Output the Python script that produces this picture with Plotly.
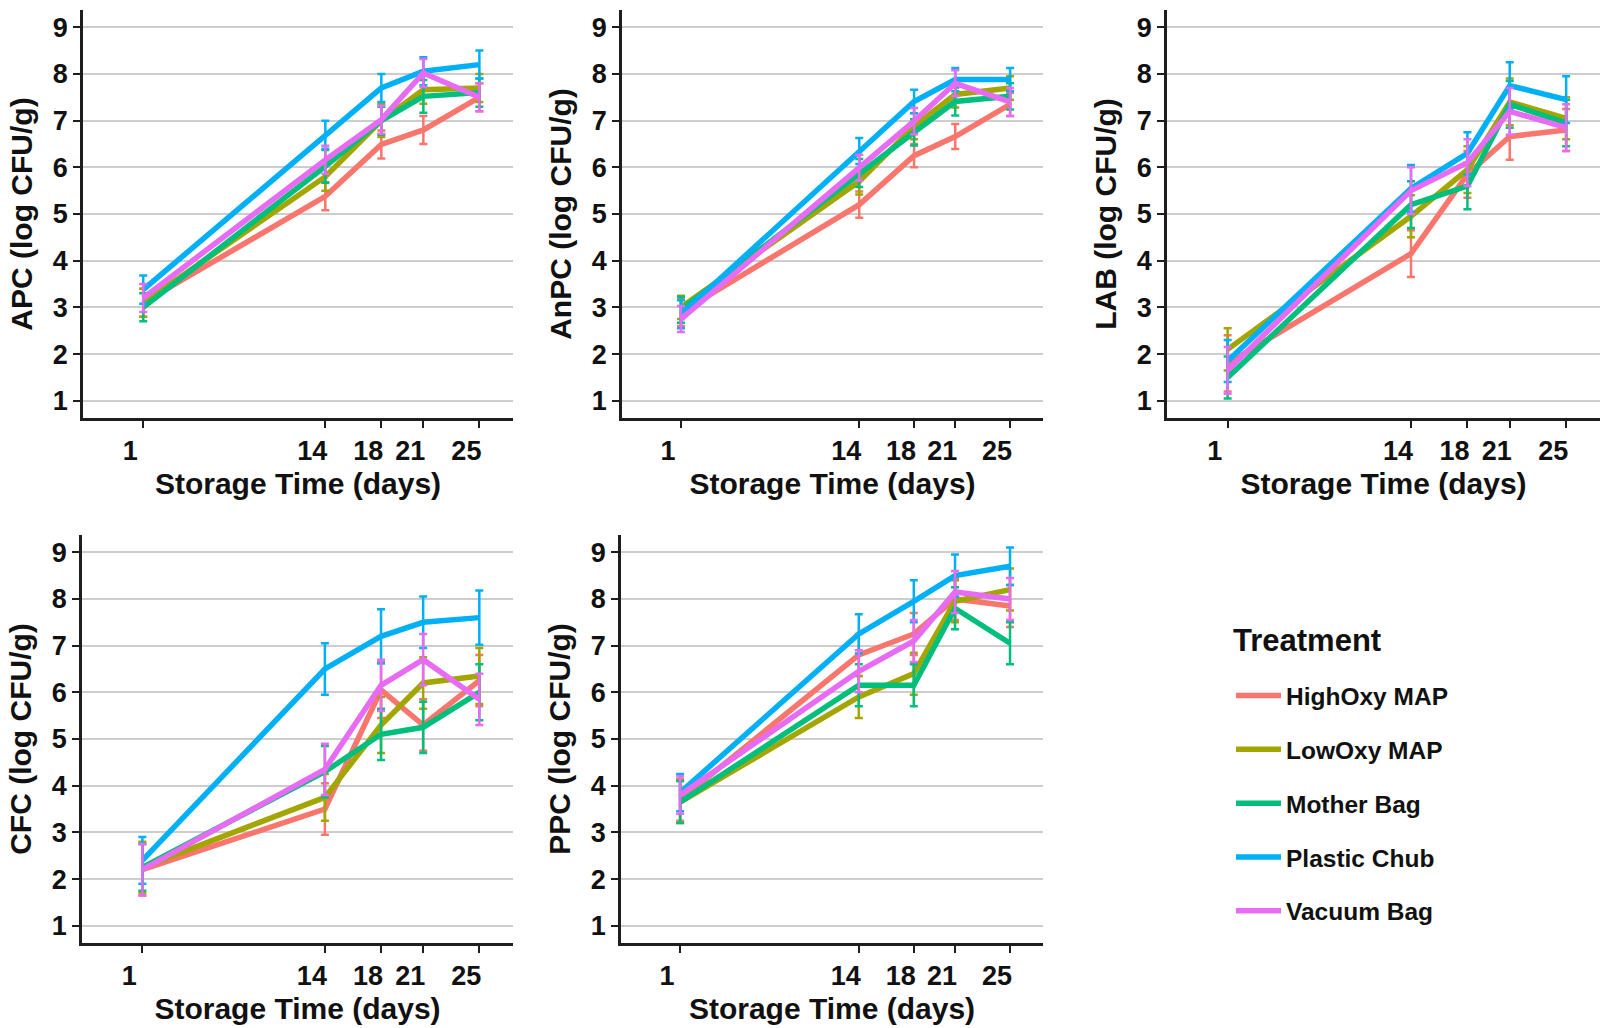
import plotly.graph_objects as go

days = [1, 14, 18, 21, 25]
treatments = ["HighOxy MAP", "LowOxy MAP", "Mother Bag", "Plastic Chub", "Vacuum Bag"]
colors = ["#F8766D", "#A3A500", "#00BF7D", "#00B0F6", "#E76BF3"]
panel_titles = ["APC (log CFU/g)", "AnPC (log CFU/g)", "LAB (log CFU/g)", "CFC (log CFU/g)", "PPC (log CFU/g)"]
y_ticks = [1, 2, 3, 4, 5, 6, 7, 8, 9]
legend_title = "Treatment"

# APC
apc_high = [3.1, 5.38, 6.49, 6.8, 7.5]
apc_low = [3.1, 5.8, 7.0, 7.66, 7.7]
apc_mother = [3.0, 6.02, 7.0, 7.52, 7.6]
apc_plastic = [3.38, 6.7, 7.7, 8.06, 8.2]
apc_vacuum = [3.2, 6.16, 7.02, 8.02, 7.5]
apc_high_se = [0.3, 0.3, 0.3, 0.3, 0.3]
apc_low_se = [0.3, 0.3, 0.35, 0.3, 0.3]
apc_mother_se = [0.3, 0.35, 0.3, 0.35, 0.3]
apc_plastic_se = [0.3, 0.3, 0.3, 0.3, 0.3]
apc_vacuum_se = [0.3, 0.3, 0.3, 0.3, 0.3]

# AnPC
anpc_high = [2.9, 5.2, 6.25, 6.66, 7.35]
anpc_low = [3.0, 5.7, 6.88, 7.56, 7.7]
anpc_mother = [2.95, 5.88, 6.75, 7.41, 7.52]
anpc_plastic = [2.85, 6.35, 7.41, 7.88, 7.88]
anpc_vacuum = [2.75, 5.99, 6.99, 7.8, 7.4]
anpc_high_se = [0.3, 0.28, 0.25, 0.27, 0.25]
anpc_low_se = [0.25, 0.28, 0.28, 0.28, 0.25]
anpc_mother_se = [0.28, 0.3, 0.28, 0.3, 0.28]
anpc_plastic_se = [0.3, 0.28, 0.25, 0.25, 0.25]
anpc_vacuum_se = [0.28, 0.28, 0.28, 0.28, 0.3]

# LAB
lab_high = [1.8, 4.15, 5.85, 6.66, 6.8]
lab_low = [2.1, 4.95, 5.95, 7.4, 7.05]
lab_mother = [1.5, 5.2, 5.6, 7.35, 6.95]
lab_plastic = [1.85, 5.55, 6.3, 7.75, 7.45]
lab_vacuum = [1.65, 5.5, 6.1, 7.2, 6.85]
lab_high_se = [0.6, 0.5, 0.5, 0.5, 0.45]
lab_low_se = [0.45, 0.45, 0.5, 0.5, 0.45]
lab_mother_se = [0.45, 0.5, 0.5, 0.5, 0.5]
lab_plastic_se = [0.45, 0.5, 0.45, 0.5, 0.5]
lab_vacuum_se = [0.5, 0.5, 0.5, 0.5, 0.5]

# CFC
cfc_high = [2.2, 3.5, 6.05, 5.3, 6.25]
cfc_low = [2.25, 3.75, 5.3, 6.2, 6.35]
cfc_mother = [2.25, 4.3, 5.1, 5.25, 6.0]
cfc_plastic = [2.4, 6.5, 7.2, 7.5, 7.6]
cfc_vacuum = [2.2, 4.35, 6.15, 6.7, 5.85]
cfc_high_se = [0.55, 0.55, 0.6, 0.55, 0.55]
cfc_low_se = [0.55, 0.5, 0.6, 0.55, 0.6]
cfc_mother_se = [0.5, 0.55, 0.55, 0.55, 0.6]
cfc_plastic_se = [0.5, 0.55, 0.58, 0.55, 0.58]
cfc_vacuum_se = [0.55, 0.55, 0.55, 0.55, 0.55]

# PPC
ppc_high = [3.7, 6.8, 7.25, 8.0, 7.85]
ppc_low = [3.65, 5.9, 6.4, 7.95, 8.2]
ppc_mother = [3.65, 6.15, 6.15, 7.8, 7.05]
ppc_plastic = [3.85, 7.25, 7.95, 8.5, 8.7]
ppc_vacuum = [3.8, 6.45, 7.1, 8.15, 8.0]
ppc_high_se = [0.45, 0.45, 0.45, 0.45, 0.45]
ppc_low_se = [0.45, 0.45, 0.45, 0.45, 0.45]
ppc_mother_se = [0.45, 0.45, 0.45, 0.45, 0.45]
ppc_plastic_se = [0.4, 0.42, 0.45, 0.45, 0.4]
ppc_vacuum_se = [0.4, 0.45, 0.45, 0.45, 0.45]

panels = [
    ([apc_high, apc_low, apc_mother, apc_plastic, apc_vacuum],
     [apc_high_se, apc_low_se, apc_mother_se, apc_plastic_se, apc_vacuum_se]),
    ([anpc_high, anpc_low, anpc_mother, anpc_plastic, anpc_vacuum],
     [anpc_high_se, anpc_low_se, anpc_mother_se, anpc_plastic_se, anpc_vacuum_se]),
    ([lab_high, lab_low, lab_mother, lab_plastic, lab_vacuum],
     [lab_high_se, lab_low_se, lab_mother_se, lab_plastic_se, lab_vacuum_se]),
    ([cfc_high, cfc_low, cfc_mother, cfc_plastic, cfc_vacuum],
     [cfc_high_se, cfc_low_se, cfc_mother_se, cfc_plastic_se, cfc_vacuum_se]),
    ([ppc_high, ppc_low, ppc_mother, ppc_plastic, ppc_vacuum],
     [ppc_high_se, ppc_low_se, ppc_mother_se, ppc_plastic_se, ppc_vacuum_se]),
]

W, H = 1600, 1028
# pixel boxes (left, right, top, bottom)
boxes = [
    (83, 513, 10, 418),
    (622, 1043, 10, 418),
    (1167, 1600, 10, 418),
    (82, 513, 535, 943),
    (621, 1043, 535, 943),
]

FONT = "Liberation Sans, Arial, Helvetica, sans-serif"
AXC = "#1e1e1e"

fig = go.Figure()
for p, (vals, errs) in enumerate(panels):
    ax = "" if p == 0 else str(p + 1)
    for s in range(5):
        fig.add_trace(go.Scatter(
            x=days, y=vals[s], mode="lines", name=treatments[s],
            line=dict(color=colors[s], width=5.5),
            error_y=dict(type="data", array=errs[s], visible=True,
                         color=colors[s], thickness=2.5, width=4),
            xaxis="x" + ax, yaxis="y" + ax,
            legendgroup=treatments[s], showlegend=(p == 0),
        ))

layout = dict(
    width=W, height=H,
    margin=dict(l=0, r=0, t=0, b=0),
    paper_bgcolor="white", plot_bgcolor="white",
    font=dict(family=FONT, color="black"),
    showlegend=True,
    legend=dict(
        x=1231 / W, xanchor="left", y=1 - 673 / H, yanchor="top",
        font=dict(family=FONT, size=24.5, color="#111111", weight="bold"),
        tracegroupgap=19, itemwidth=45, bgcolor="rgba(0,0,0,0)",
    ),
    annotations=[dict(
        text=legend_title, xref="paper", yref="paper",
        x=1231 / W, y=1 - 640 / H, xanchor="left", yanchor="middle",
        showarrow=False,
        font=dict(family=FONT, size=31, color="#111111", weight="bold"),
    )],
)

for p, (l, r, t, b) in enumerate(boxes):
    ax = "" if p == 0 else str(p + 1)
    layout["xaxis" + ax] = dict(
        domain=[l / W, r / W], anchor="y" + ax,
        range=[-3.3, 27.4], tickvals=days, ticktext=[str(d) for d in days],
        showgrid=False, zeroline=False,
        showline=True, linecolor=AXC, linewidth=2.5,
        ticks="outside", ticklen=7, tickwidth=2, tickcolor=AXC,
        ticklabelshift=-13,
        tickfont=dict(family=FONT, size=27, color="#111111", weight="bold"),
        title=dict(text="Storage Time (days)", standoff=8,
                   font=dict(family=FONT, size=30, color="#111111", weight="bold")),
    )
    layout["yaxis" + ax] = dict(
        domain=[1 - b / H, 1 - t / H], anchor="x" + ax,
        range=[0.63, 9.37], tickvals=y_ticks,
        showgrid=True, gridcolor="#cdcdcd", gridwidth=1.5, zeroline=False,
        showline=True, linecolor=AXC, linewidth=2.5,
        ticks="outside", ticklen=7, tickwidth=2, tickcolor=AXC,
        tickfont=dict(family=FONT, size=27, color="#111111", weight="bold"),
        title=dict(text=panel_titles[p], standoff=12,
                   font=dict(family=FONT, size=30, color="#111111", weight="bold")),
    )

fig.update_layout(**layout)
fig.write_html("out.html")
